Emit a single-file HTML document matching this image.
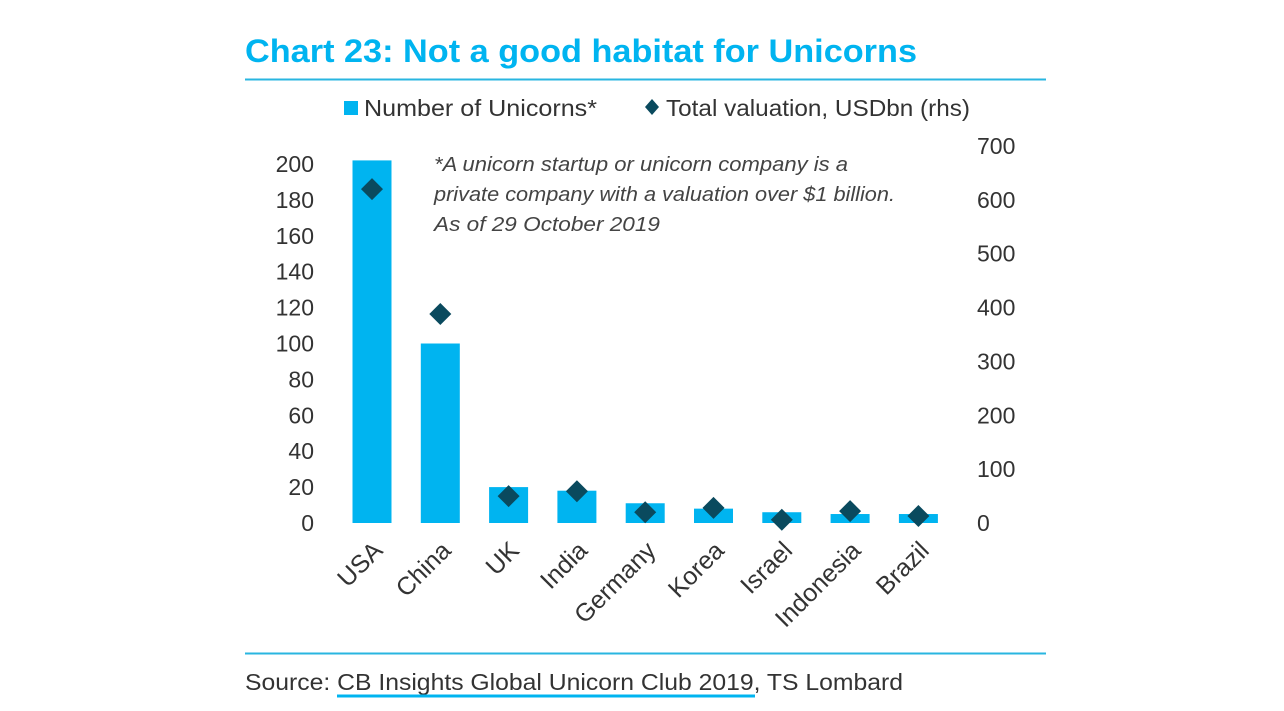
<!DOCTYPE html>
<html><head><meta charset="utf-8"><style>
html,body{margin:0;padding:0;background:#fff;}
svg{display:block;font-family:"Liberation Sans",sans-serif;}
</style></head><body>
<svg id="chart" width="1284" height="711" viewBox="0 0 1284 711">
<text x="245" y="62" font-size="32" font-weight="bold" fill="#00b4f0" textLength="672" lengthAdjust="spacingAndGlyphs">Chart 23: Not a good habitat for Unicorns</text>
<line x1="245" y1="79.5" x2="1046" y2="79.5" stroke="#29b6e0" stroke-width="2"/>
<g>
<g>
<rect x="344" y="101" width="14" height="14" fill="#00b4f0"/>
<text x="364" y="116" font-size="23" fill="#333" textLength="233" lengthAdjust="spacingAndGlyphs">Number of Unicorns*</text>
</g>
<g>
<polygon points="652,99 659,107 652,115 645,107" fill="#0a4a5e"/>
<text x="666" y="116" font-size="23" fill="#333" textLength="304" lengthAdjust="spacingAndGlyphs">Total valuation, USDbn (rhs)</text>
</g>
</g>
<g id="leftAxis"></g>
<g id="rightAxis"></g>
<g id="bars"></g>
<g id="points"></g>
<g id="cats"></g>
<g font-style="italic" font-size="20" fill="#444">
<text x="434" y="171" textLength="414" lengthAdjust="spacingAndGlyphs">*A unicorn startup or unicorn company is a</text>
<text x="434" y="201" textLength="461" lengthAdjust="spacingAndGlyphs">private company with a valuation over $1 billion.</text>
<text x="434" y="231" textLength="226" lengthAdjust="spacingAndGlyphs">As of 29 October 2019</text>
</g>
<line x1="245" y1="653.5" x2="1046" y2="653.5" stroke="#29b6e0" stroke-width="2"/>
<text x="245" y="690" font-size="23" fill="#333"><tspan textLength="658" lengthAdjust="spacingAndGlyphs">Source: CB Insights Global Unicorn Club 2019, TS Lombard</tspan></text>
<line x1="337" y1="696" x2="755" y2="696" stroke="#00b4f0" stroke-width="3"/>
</svg>
<script>
const categories=["USA","China","UK","India","Germany","Korea","Israel","Indonesia","Brazil"];
const unicornCounts=[202,100,20,18,11,8,6,5,5];
const valuations=[620,388,50,59,20,28,6,22,13];
const leftTicks=[0,20,40,60,80,100,120,140,160,180,200];
const rightTicks=[0,100,200,300,400,500,600,700];
const NS="http://www.w3.org/2000/svg";
const y0=523;
const yL=v=>y0-v*(359/200);
const yR=v=>y0-v*(377/700);
const xC=i=>372+i*68.3;
function mk(tag,attrs,parent){const e=document.createElementNS(NS,tag);for(const k in attrs)e.setAttribute(k,attrs[k]);parent.appendChild(e);return e;}
const la=document.getElementById('leftAxis'),ra=document.getElementById('rightAxis'),bg=document.getElementById('bars'),pg=document.getElementById('points'),cg=document.getElementById('cats');
leftTicks.forEach(t=>{const e=mk('text',{x:314,y:yL(t)+8,'text-anchor':'end','font-size':23,fill:'#333'},la);e.textContent=t;

});
rightTicks.forEach(t=>{const e=mk('text',{x:977,y:yR(t)+8,'font-size':23,fill:'#333'},ra);e.textContent=t;

});
categories.forEach((c,i)=>{
const b=mk('rect',{x:xC(i)-19.5,y:yL(unicornCounts[i]),width:39,height:y0-yL(unicornCounts[i]),fill:'#00b4f0'},bg);


const cx=xC(i),cy=yR(valuations[i]);
const p=mk('polygon',{points:`${cx},${cy-11} ${cx+11},${cy} ${cx},${cy+11} ${cx-11},${cy}`,fill:'#0a4a5e'},pg);


const t=mk('text',{x:cx+12,y:552,'text-anchor':'end','font-size':25,fill:'#333',transform:`rotate(-45 ${cx+12} 552)`},cg);t.textContent=c;


});
</script>
</body></html>
